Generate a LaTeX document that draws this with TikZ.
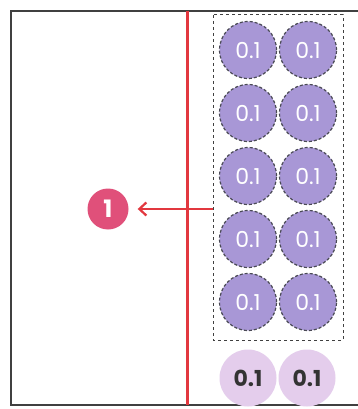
\documentclass[tikz,border=0pt]{standalone}
\usepackage{fontspec}
\setmainfont{Poppins}
\usetikzlibrary{arrows.meta}
\definecolor{chipfill}{HTML}{A897D6}
\definecolor{chiplight}{HTML}{E4CDEC}
\definecolor{chipedge}{HTML}{4A4A55}
\definecolor{redline}{HTML}{E2383F}
\definecolor{pinkbadge}{HTML}{E0507A}
\tikzset{
  chip/.style={circle, minimum size=57pt, inner sep=0pt, fill=chipfill,
    draw=chipedge, densely dashed, line width=1.2pt, text=white,
    font=\fontsize{22}{22}\selectfont},
  lightchip/.style={circle, minimum size=57pt, inner sep=0pt, fill=chiplight,
    text=black!80, font=\fontsize{22}{22}\selectfont\bfseries},
  badge/.style={circle, minimum size=41pt, inner sep=0pt, fill=pinkbadge,
    text=white, font=\fontsize{24}{24}\selectfont\bfseries},
  groupbox/.style={draw=black!75, dashed, line width=1pt},
  frame/.style={draw=black!75, line width=2pt},
  divider/.style={draw=redline, line width=3pt},
  pointer/.style={draw=redline, line width=2.2pt, shorten >=9pt,
    -{Straight Barb[length=7pt,width=13pt,line width=2.2pt]}}
}
\begin{document}
\begin{tikzpicture}[x=1pt,y=-1pt]
\useasboundingbox (0,0) rectangle (358,409);
\clip (0,0) rectangle (358,409);
\fill[white] (0,0) rectangle (358,409);
\draw[frame] (11,11) rectangle (370,405);
\draw[groupbox] (213,15) rectangle (343,340);
\foreach \r/\y in {1/50,2/113,3/176,4/239,5/302}{
  \node[chip] (a\r) at (248,\y) {0.1};
  \node[chip] (b\r) at (308,\y) {0.1};
}
\node[lightchip] (c1) at (248,378) {0.1};
\node[lightchip] (c2) at (307,378) {0.1};
\coordinate (dtop) at (187,11);
\coordinate (dbot) at (187,405);
\draw[divider] (dtop) -- (dbot);
\node[badge] (n1) at (108,209) {1};
\coordinate (boxleft) at (213,209);
\draw[pointer] (boxleft) -- (n1.east);
\end{tikzpicture}
\end{document}
